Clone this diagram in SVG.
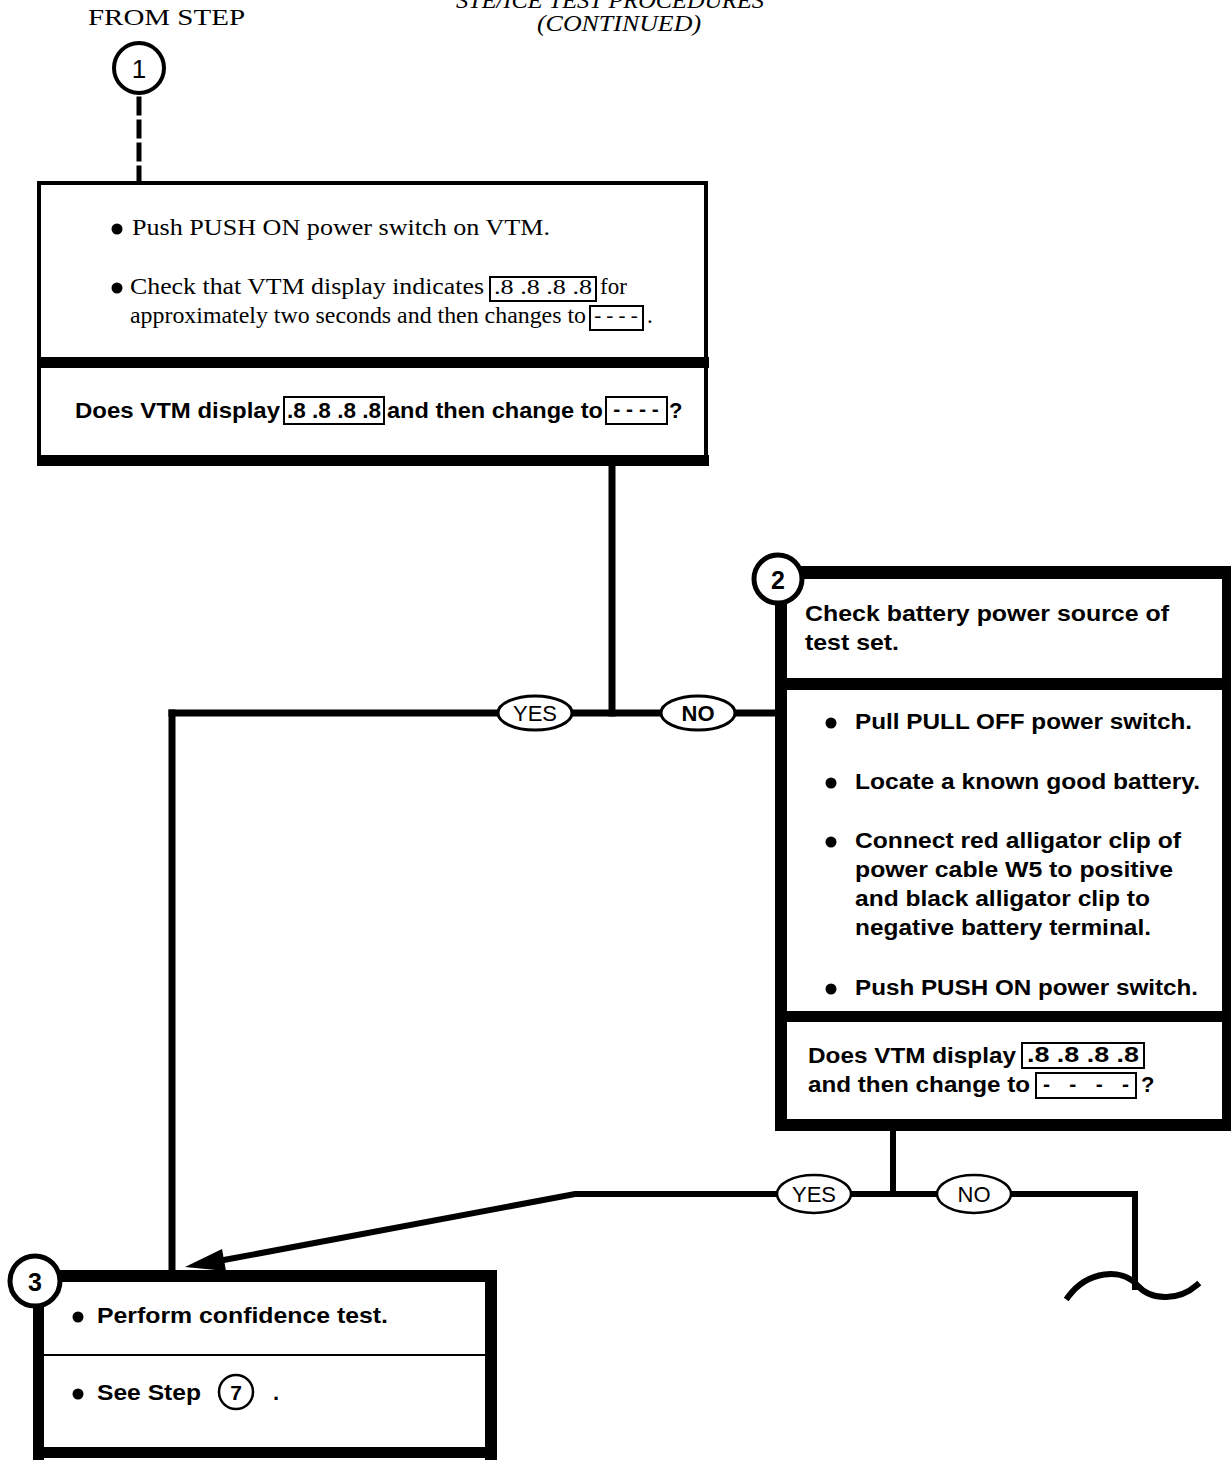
<svg xmlns="http://www.w3.org/2000/svg" width="1231" height="1460" viewBox="0 0 1231 1460">
<style>
.serif{font-family:"Liberation Serif","Times New Roman",serif;fill:#000}
.ital{font-family:"Liberation Serif","Times New Roman",serif;font-style:italic;fill:#000}
.sansb{font-family:"Liberation Sans",Arial,sans-serif;font-weight:bold;fill:#000}
.sans{font-family:"Liberation Sans",Arial,sans-serif;fill:#000}
.blk{fill:#000}
.wire{stroke:#000;fill:none;stroke-linecap:square}
.oval{fill:#fff;stroke:#000}
.dbox{fill:#fff;stroke:#000;stroke-width:2}
.num{fill:#fff;stroke:#000}
</style>
<rect width="1231" height="1460" fill="#fff"/>

<!-- header -->
<g id="title">
<text class="ital" x="610" y="8" font-size="23" text-anchor="middle" textLength="308" lengthAdjust="spacingAndGlyphs">STE/ICE TEST PROCEDURES</text>
<text class="ital" x="619" y="31" font-size="23" text-anchor="middle" textLength="164" lengthAdjust="spacingAndGlyphs">(CONTINUED)</text>
</g>

<g id="from-step-1">
<text class="serif" x="88" y="25" font-size="23" textLength="157" lengthAdjust="spacingAndGlyphs">FROM STEP</text>
<circle class="num" cx="139" cy="68" r="25" stroke-width="4"/>
<text class="sans" x="139" y="78" font-size="26" text-anchor="middle">1</text>
</g>

<!-- connectors -->
<g id="connectors">
<line class="wire" x1="139" y1="99" x2="139" y2="182" stroke-width="5" stroke-dasharray="14 9" stroke-linecap="butt"/>
<line class="wire" x1="612" y1="466" x2="612" y2="713" stroke-width="7"/>
<line class="wire" x1="172" y1="713" x2="778" y2="713" stroke-width="7"/>
<line class="wire" x1="172" y1="713" x2="172" y2="1272" stroke-width="7"/>
<line class="wire" x1="893" y1="1130" x2="893" y2="1194" stroke-width="6"/>
<polyline class="wire" points="1135,1287 1135,1194 575,1194 224,1260" stroke-width="6" stroke-linejoin="miter"/>
<polygon class="blk" points="185,1267 226,1271 222,1249"/>
<path class="wire" d="M1068,1297 C1088,1270 1122,1268 1137,1285 C1152,1302 1180,1300 1197,1285" stroke-width="6" stroke-linecap="round"/>
<ellipse class="oval" cx="535" cy="713" rx="37" ry="17" stroke-width="3"/>
<text class="sans" x="535" y="721" font-size="22" text-anchor="middle">YES</text>
<ellipse class="oval" cx="698" cy="713" rx="37" ry="17" stroke-width="3"/>
<text class="sansb" x="698" y="721" font-size="22" text-anchor="middle">NO</text>
<ellipse class="oval" cx="814" cy="1194" rx="37" ry="19" stroke-width="2.5"/>
<text class="sans" x="814" y="1202" font-size="22" text-anchor="middle">YES</text>
<ellipse class="oval" cx="974" cy="1194" rx="37" ry="19" stroke-width="2.5"/>
<text class="sans" x="974" y="1202" font-size="22" text-anchor="middle">NO</text>
</g>

<!-- box 1 -->
<g id="box1">
<rect x="39" y="183" width="667" height="278" fill="#fff" stroke="#000" stroke-width="4"/>
<rect class="blk" x="37" y="357" width="672" height="11"/>
<rect class="blk" x="37" y="455" width="672" height="11"/>
<circle class="blk" cx="117" cy="229" r="5.5"/>
<text class="serif" x="132" y="235" font-size="23" textLength="418" lengthAdjust="spacingAndGlyphs">Push PUSH ON power switch on VTM.</text>
<circle class="blk" cx="117" cy="288" r="5.5"/>
<text class="serif" x="130" y="294" font-size="23" textLength="354" lengthAdjust="spacingAndGlyphs">Check that VTM display indicates</text>
<rect class="dbox" x="490" y="277" width="106" height="24" stroke-width="1.5"/>
<text class="serif" x="543" y="294" font-size="22" text-anchor="middle" textLength="98" lengthAdjust="spacingAndGlyphs">.8 .8 .8 .8</text>
<text class="serif" x="600" y="294" font-size="23">for</text>
<text class="serif" x="130" y="323" font-size="23" textLength="456" lengthAdjust="spacingAndGlyphs">approximately two seconds and then changes to</text>
<rect class="dbox" x="590" y="306" width="53" height="24" stroke-width="1.5"/>
<text class="serif" x="616" y="322" font-size="21" text-anchor="middle">- - - -</text>
<text class="serif" x="647" y="323" font-size="23">.</text>
<text class="sansb" x="75" y="418" font-size="22" textLength="205" lengthAdjust="spacingAndGlyphs">Does VTM display</text>
<rect class="dbox" x="284" y="397" width="100" height="27"/>
<text class="sansb" x="334" y="418" font-size="22" text-anchor="middle" textLength="94" lengthAdjust="spacingAndGlyphs">.8 .8 .8 .8</text>
<text class="sansb" x="387" y="418" font-size="22" textLength="216" lengthAdjust="spacingAndGlyphs">and then change to</text>
<rect class="dbox" x="606" y="397" width="61" height="27"/>
<text class="sansb" x="636" y="416" font-size="21" text-anchor="middle">- - - -</text>
<text class="sansb" x="669" y="418" font-size="22">?</text>
</g>

<!-- box 2 -->
<g id="box2">
<rect x="781" y="572" width="446" height="553" fill="#fff"/>
<rect class="blk" x="775" y="566" width="456" height="13"/>
<rect class="blk" x="775" y="566" width="12" height="565"/>
<rect class="blk" x="1222" y="566" width="9" height="565"/>
<rect class="blk" x="775" y="678" width="456" height="12"/>
<rect class="blk" x="775" y="1011" width="456" height="11"/>
<rect class="blk" x="775" y="1119" width="456" height="12"/>
<circle class="num" cx="778" cy="579" r="24" stroke-width="5"/>
<text class="sansb" x="778" y="589" font-size="25" text-anchor="middle">2</text>
<text class="sansb" x="805" y="621" font-size="22" textLength="364" lengthAdjust="spacingAndGlyphs">Check battery power source of</text>
<text class="sansb" x="805" y="650" font-size="22" textLength="94" lengthAdjust="spacingAndGlyphs">test set.</text>
<circle class="blk" cx="831" cy="723" r="5.5"/>
<text class="sansb" x="855" y="729" font-size="22" textLength="337" lengthAdjust="spacingAndGlyphs">Pull PULL OFF power switch.</text>
<circle class="blk" cx="831" cy="783" r="5.5"/>
<text class="sansb" x="855" y="789" font-size="22" textLength="345" lengthAdjust="spacingAndGlyphs">Locate a known good battery.</text>
<circle class="blk" cx="831" cy="842" r="5.5"/>
<text class="sansb" x="855" y="848" font-size="22" textLength="326" lengthAdjust="spacingAndGlyphs">Connect red alligator clip of</text>
<text class="sansb" x="855" y="877" font-size="22" textLength="318" lengthAdjust="spacingAndGlyphs">power cable W5 to positive</text>
<text class="sansb" x="855" y="906" font-size="22" textLength="295" lengthAdjust="spacingAndGlyphs">and black alligator clip to</text>
<text class="sansb" x="855" y="935" font-size="22" textLength="296" lengthAdjust="spacingAndGlyphs">negative battery terminal.</text>
<circle class="blk" cx="831" cy="989" r="5.5"/>
<text class="sansb" x="855" y="995" font-size="22" textLength="343" lengthAdjust="spacingAndGlyphs">Push PUSH ON power switch.</text>
<text class="sansb" x="808" y="1063" font-size="22" textLength="208" lengthAdjust="spacingAndGlyphs">Does  VTM display</text>
<rect class="dbox" x="1022" y="1043" width="122" height="25"/>
<text class="sansb" x="1083" y="1062" font-size="22" text-anchor="middle" textLength="112" lengthAdjust="spacingAndGlyphs">.8 .8 .8 .8</text>
<text class="sansb" x="808" y="1092" font-size="22" textLength="222" lengthAdjust="spacingAndGlyphs">and then change to</text>
<rect class="dbox" x="1036" y="1073" width="100" height="25"/>
<text class="sansb" x="1086" y="1091" font-size="21" text-anchor="middle" textLength="86" lengthAdjust="spacing">- - - -</text>
<text class="sansb" x="1141" y="1092" font-size="22">?</text>
</g>

<!-- box 3 -->
<g id="box3">
<rect x="43" y="1276" width="446" height="176" fill="#fff"/>
<rect class="blk" x="33" y="1270" width="464" height="12"/>
<rect class="blk" x="33" y="1270" width="11" height="190"/>
<rect class="blk" x="485" y="1270" width="12" height="190"/>
<rect class="blk" x="33" y="1447" width="464" height="11"/>
<line x1="43" y1="1355" x2="485" y2="1355" stroke="#000" stroke-width="2"/>
<circle class="num" cx="35" cy="1281" r="25" stroke-width="5"/>
<text class="sansb" x="35" y="1291" font-size="25" text-anchor="middle">3</text>
<circle class="blk" cx="78" cy="1317" r="5.5"/>
<text class="sansb" x="97" y="1323" font-size="22" textLength="291" lengthAdjust="spacingAndGlyphs">Perform confidence test.</text>
<circle class="blk" cx="78" cy="1394" r="5.5"/>
<text class="sansb" x="97" y="1400" font-size="22" textLength="104" lengthAdjust="spacingAndGlyphs">See Step</text>
<circle cx="236" cy="1392" r="17" fill="#fff" stroke="#000" stroke-width="2.5"/>
<text class="sansb" x="236" y="1400" font-size="21" text-anchor="middle">7</text>
<text class="sansb" x="273" y="1400" font-size="22">.</text>
</g>
</svg>
